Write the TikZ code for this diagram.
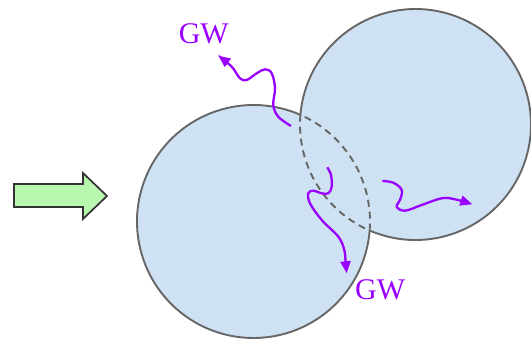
\documentclass[tikz,border=0pt]{standalone}
\usepackage{fontspec}
\setmainfont{Liberation Serif}
\usetikzlibrary{arrows.meta}
\definecolor{bubble}{HTML}{CFE2F3}
\definecolor{rim}{HTML}{666666}
\definecolor{wave}{HTML}{9900FF}
\definecolor{pushfill}{HTML}{B7F7AE}
\definecolor{pushline}{HTML}{333333}
\tikzset{
  bubblefill/.style={fill=bubble},
  rimsolid/.style={draw=rim, line width=1.9pt},
  rimdashed/.style={draw=rim, line width=1.9pt, dash pattern=on 7pt off 5pt},
  gwwave/.style={draw=wave, line width=2.3pt, -{Triangle[length=12pt,width=10pt]}},
  gwlabel/.style={text=wave, inner sep=0pt, font=\fontsize{30}{30}\selectfont},
  pusharrow/.style={fill=pushfill, draw=pushline, line width=1.7pt, line join=miter}
}
\begin{document}
\begin{tikzpicture}[x=1pt, y=-1pt]
  \useasboundingbox (0,0) rectangle (531,339);

  % bubble centres
  \coordinate (c1) at (253.5,221.5);
  \coordinate (c2) at (415.5,124.5);

  % filled bubbles
  \fill[bubblefill] (c1) circle [radius=116.5];
  \fill[bubblefill] (c2) circle [radius=115.5];

  % outlines: outer parts solid, parts inside the other bubble dashed
  \draw[rimsolid]  (c1) ++(-66.5:116.5) arc [start angle=-66.5, end angle=-355.5, radius=116.5];
  \draw[rimdashed] (c1) ++(4.5:116.5)   arc [start angle=4.5,   end angle=-66.5,  radius=116.5];
  \draw[rimsolid]  (c2) ++(-246.9:115.5) arc [start angle=-246.9, end angle=-535.1, radius=115.5];
  \draw[rimdashed] (c2) ++(-175.1:115.5) arc [start angle=-175.1, end angle=-246.9, radius=115.5];

  % incoming push arrow
  \draw[pusharrow] (14,184) -- (83,184) -- (83,173) -- (107,196) -- (83,219)
                   -- (83,207) -- (14,207) -- cycle;

  % gravitational-wave arrows
  \coordinate (w1s) at (291,126);
  \coordinate (w1e) at (218.3,55.7);
  \draw[gwwave] plot[smooth, tension=0.6] coordinates {
    (w1s) (278.3,116.7) (273.3,105) (275,88.3) (271.7,73.3) (265,69.3)
    (256.7,73.3) (246.7,80) (240,78.3) (231.7,66.7) (w1e)};

  \coordinate (w2s) at (327.3,167.3);
  \coordinate (w2e) at (346.7,273.3);
  \draw[gwwave] plot[smooth, tension=0.6] coordinates {
    (w2s) (331,175) (331.7,186.7) (328.3,193.3) (321.7,193.3) (313.3,190.7)
    (308.3,193.3) (310,203.3) (321.7,220) (338.3,236.7) (344.3,250)
    (345.7,263.3) (w2e)};

  \coordinate (w3s) at (382.3,181);
  \coordinate (w3e) at (472.3,204.3);
  \draw[gwwave] plot[smooth, tension=0.6] coordinates {
    (w3s) (393.3,182.7) (401.7,190) (400,200) (396.7,206.7) (405,210.7)
    (421.7,205) (441.7,198.3) (455,199.3) (w3e)};

  % labels
  \node[gwlabel] (gwtop) at (203.8,33.8) {GW};
  \node[gwlabel] (gwbot) at (380.2,289.7) {GW};
\end{tikzpicture}
\end{document}
